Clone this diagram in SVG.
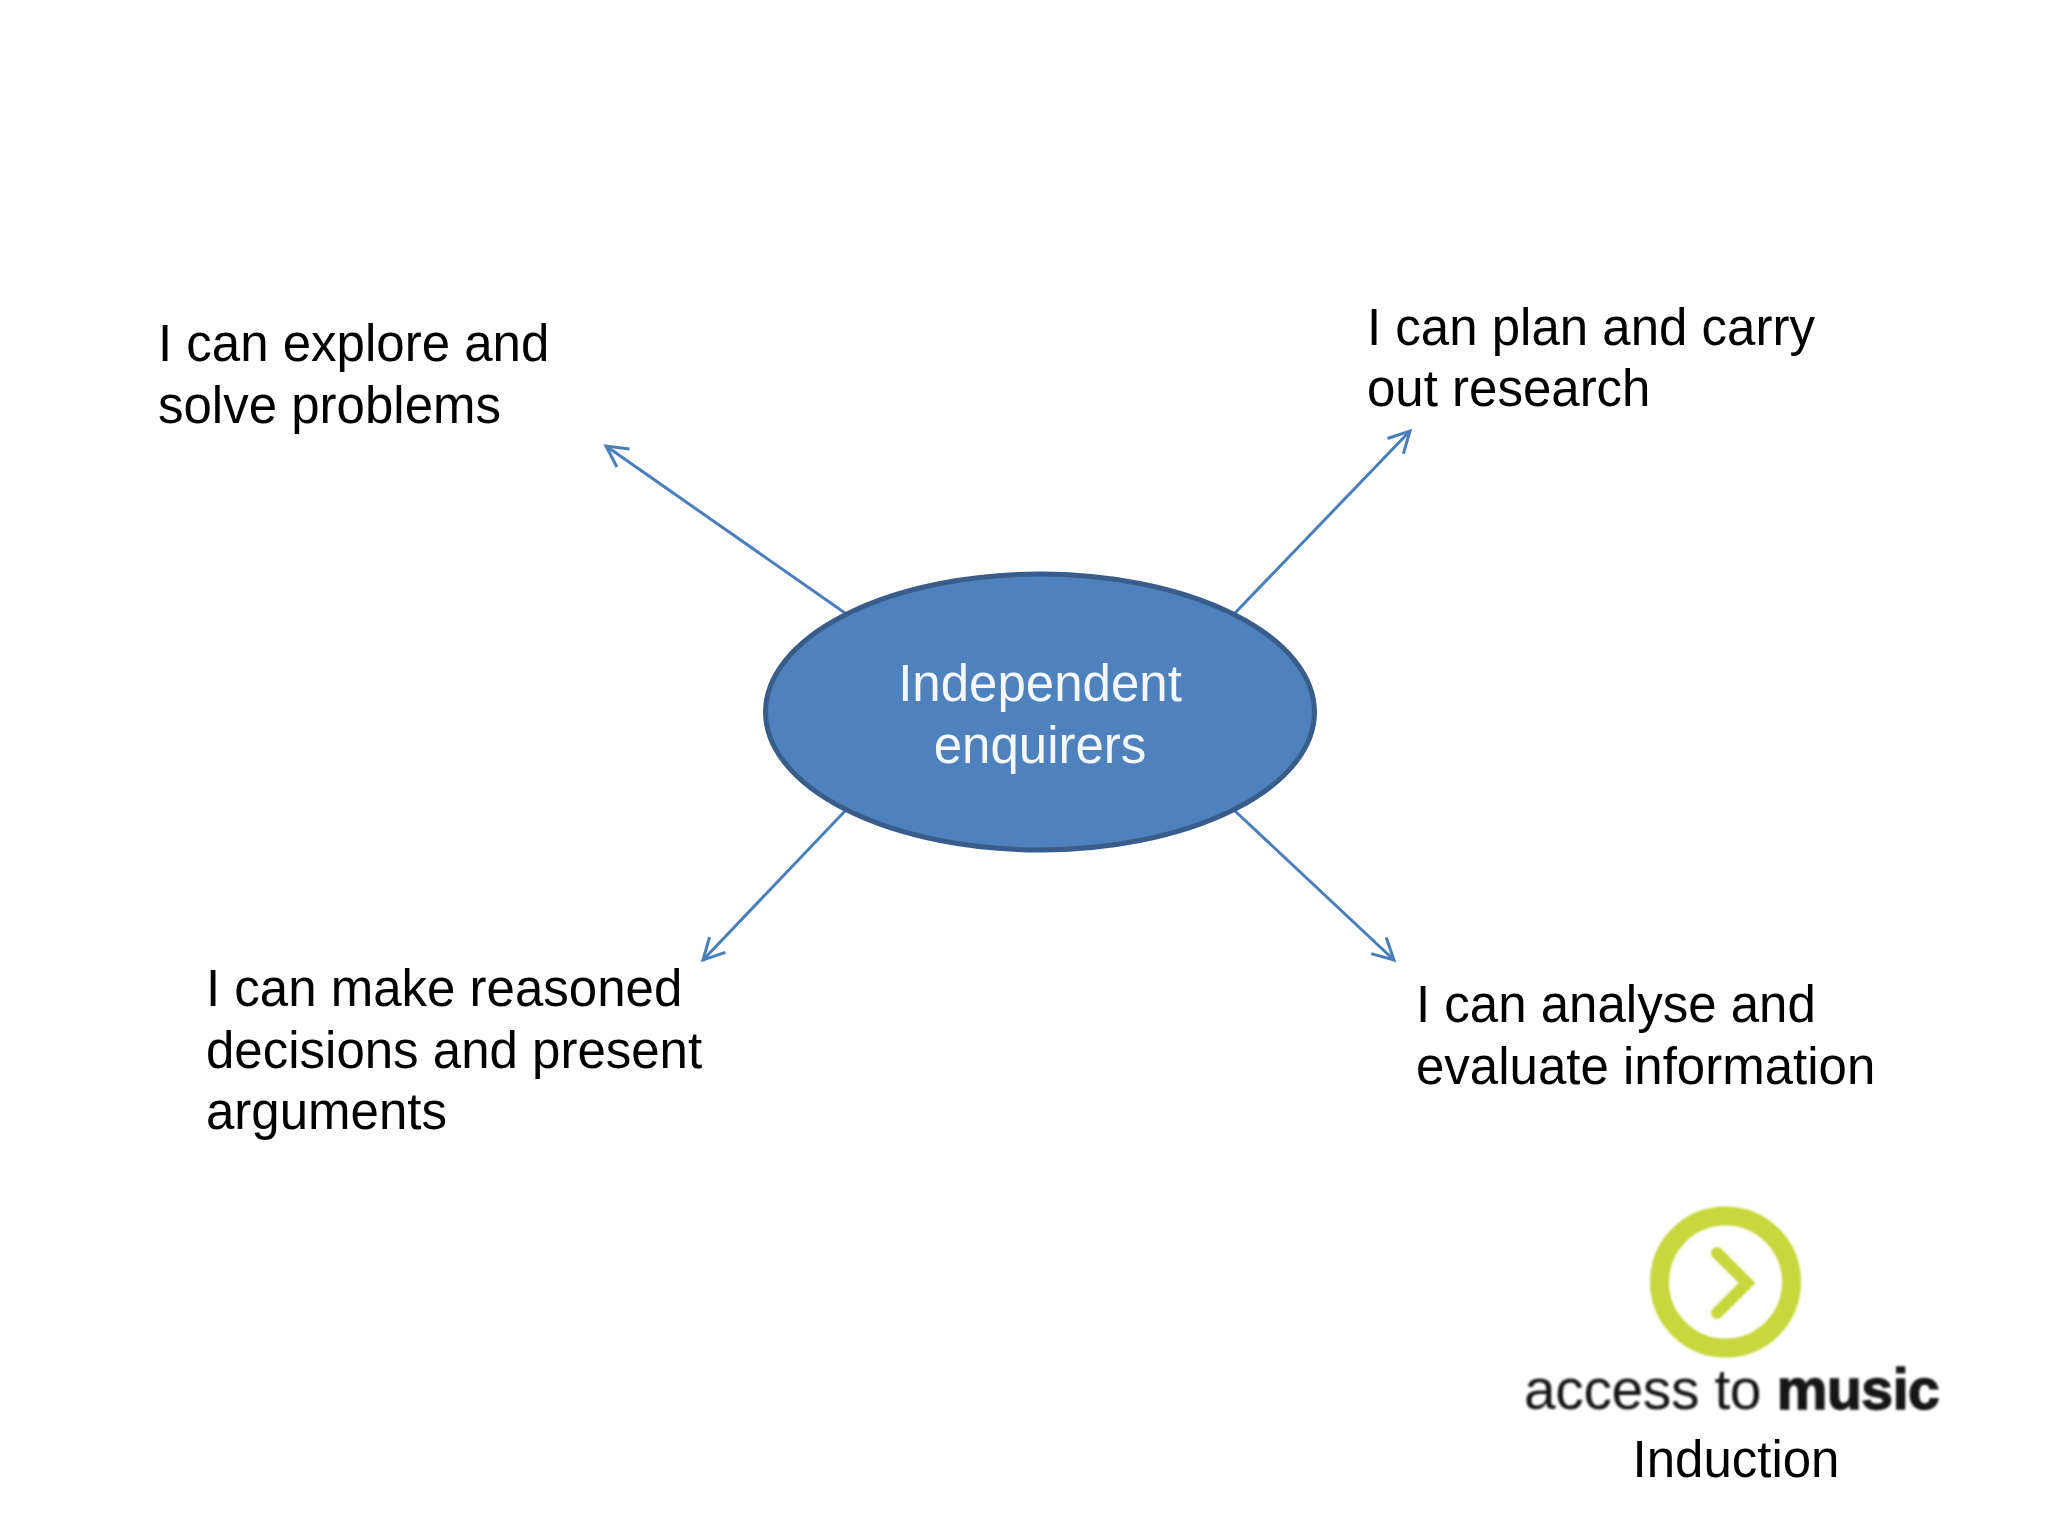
<svg xmlns="http://www.w3.org/2000/svg" width="2048" height="1536" viewBox="0 0 2048 1536">
  <defs>
    <style>
      text { font-family: "Liberation Sans", Arial, sans-serif; font-size: 51px; fill: #000; }
      .center { fill: #f4f8fc; text-anchor: middle; }
      .conn { stroke: #4a7ebb; stroke-width: 3; fill: none; marker-end: url(#open); }
      .logotext { font-size: 57px; fill: #141414; letter-spacing: -0.4px; }
      .heavy { font-weight: bold; stroke: #141414; stroke-width: 1.4; }
    </style>
    <marker id="open" markerUnits="userSpaceOnUse" markerWidth="30" markerHeight="30" refX="23" refY="12" orient="auto" overflow="visible">
      <path d="M2 1 L23 12 L2 23" fill="none" stroke="#4a7ebb" stroke-width="3"/>
    </marker>
    <filter id="soft" x="-10%" y="-10%" width="120%" height="120%"><feGaussianBlur stdDeviation="1"/></filter>
  </defs>
  <rect width="2048" height="1536" fill="#ffffff"/>
  <g id="connectors">
    <line class="conn" x1="845" y1="613" x2="606" y2="446"/>
    <line class="conn" x1="1235" y1="613" x2="1410" y2="431"/>
    <line class="conn" x1="845" y1="811" x2="703" y2="960"/>
    <line class="conn" x1="1235" y1="811" x2="1394" y2="960"/>
  </g>
  <g id="node-center">
    <ellipse cx="1040" cy="712" rx="274.5" ry="138" fill="#4f81bd" stroke="#385d8a" stroke-width="5"/>
    <text class="center" x="1040" y="701">Independent</text>
    <text class="center" x="1040" y="763">enquirers</text>
  </g>
  <g id="node-explore">
    <text x="158" y="361">I can explore and</text>
    <text x="158" y="423">solve problems</text>
  </g>
  <g id="node-plan">
    <text x="1367" y="345">I can plan and carry</text>
    <text x="1367" y="406">out research</text>
  </g>
  <g id="node-decisions">
    <text x="206" y="1006">I can make reasoned</text>
    <text x="206" y="1068">decisions and present</text>
    <text x="206" y="1129">arguments</text>
  </g>
  <g id="node-analyse">
    <text x="1416" y="1022">I can analyse and</text>
    <text x="1416" y="1084">evaluate information</text>
  </g>
  <g id="logo">
    <g filter="url(#soft)">
      <circle cx="1725.5" cy="1282" r="66" fill="none" stroke="#c6d83c" stroke-width="19"/>
      <path d="M1717 1253 L1747 1283 L1717 1313" fill="none" stroke="#c6d83c" stroke-width="12" stroke-linecap="round" stroke-linejoin="miter"/>
      <text class="logotext" x="1524" y="1409">access to <tspan class="heavy">music</tspan></text>
    </g>
    <text x="1736" y="1477" text-anchor="middle">Induction</text>
  </g>
</svg>
